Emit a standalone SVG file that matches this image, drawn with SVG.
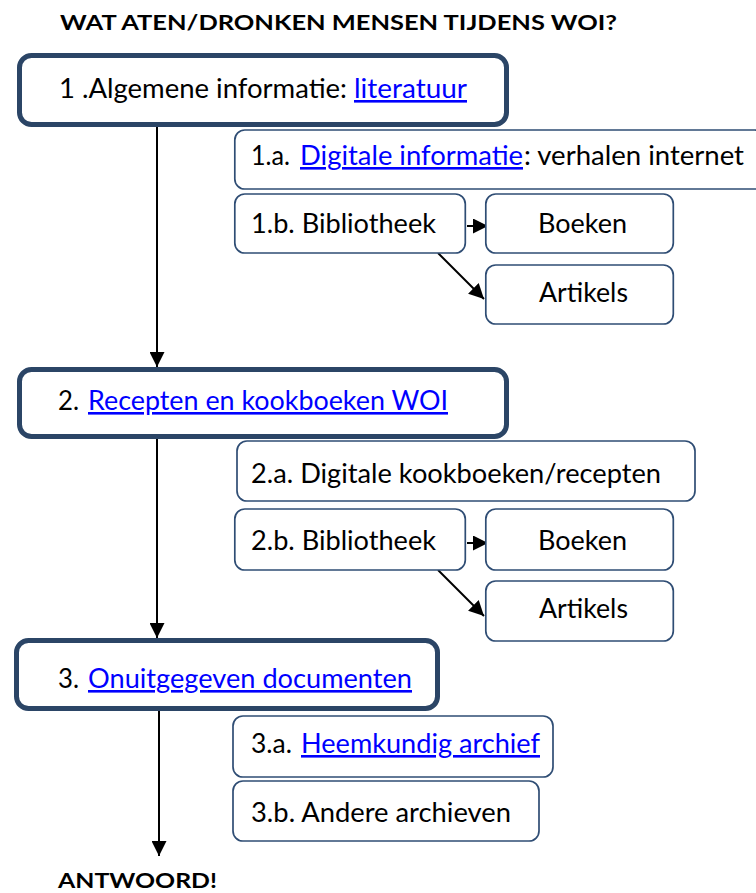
<svg xmlns="http://www.w3.org/2000/svg" width="756" height="893" viewBox="0 0 756 893">
<defs>
<marker id="ah" markerUnits="userSpaceOnUse" markerWidth="16" markerHeight="15" refX="15" refY="7.5" orient="auto">
<path d="M0,0 L15,7.5 L0,15 Z" fill="#000"/>
</marker>
<style>
.main{fill:#fff;stroke:#2b4566;stroke-width:5}
.sub{fill:#fff;stroke:#2f4d74;stroke-width:1.7}
text{font-family:Lato,"Liberation Sans",sans-serif;font-size:26px;fill:#000}
.b{font-weight:bold;font-size:21px}
.lk{fill:#0000ff;text-decoration:underline}
.cn{stroke:#000;stroke-width:2;fill:none}
</style>
</defs>
<rect width="756" height="893" fill="#fff"/>
<text id="title" class="b" x="60" y="30" textLength="557" lengthAdjust="spacingAndGlyphs">WAT ATEN/DRONKEN MENSEN TIJDENS WOI?</text>

<g id="connectors">
<line class="cn" x1="157" y1="127" x2="157" y2="367" marker-end="url(#ah)"/>
<line class="cn" x1="157" y1="439" x2="157" y2="638" marker-end="url(#ah)"/>
<line class="cn" x1="159" y1="711" x2="159" y2="856" marker-end="url(#ah)"/>
<line class="cn" x1="467" y1="226" x2="488" y2="226" marker-end="url(#ah)"/>
<line class="cn" x1="438" y1="253" x2="484" y2="299" marker-end="url(#ah)"/>
<line class="cn" x1="467" y1="543" x2="488" y2="543" marker-end="url(#ah)"/>
<line class="cn" x1="438" y1="570" x2="484" y2="616" marker-end="url(#ah)"/>
</g>

<g id="n1">
<rect class="main" x="19.5" y="55.5" width="487" height="69" rx="12"/>
<text x="59" y="98" textLength="288" lengthAdjust="spacingAndGlyphs">1 .Algemene informatie:</text>
<text class="lk" x="354" y="98" textLength="113" lengthAdjust="spacingAndGlyphs">literatuur</text>
</g>
<g id="n1a">
<rect class="sub" x="234.8" y="130" width="530" height="59" rx="10"/>
<text x="251" y="165" textLength="39" lengthAdjust="spacingAndGlyphs">1.a.</text>
<text class="lk" x="300" y="165" textLength="223" lengthAdjust="spacingAndGlyphs">Digitale informatie</text>
<text x="524" y="165" textLength="220" lengthAdjust="spacingAndGlyphs">: verhalen internet</text>
</g>
<g id="n1b">
<rect class="sub" x="234.8" y="194" width="230.5" height="59" rx="10"/>
<text x="251" y="233" textLength="185" lengthAdjust="spacingAndGlyphs">1.b. Bibliotheek</text>
</g>
<g id="n1b1">
<rect class="sub" x="485.8" y="194" width="187.5" height="59" rx="10"/>
<text x="538" y="233" textLength="89" lengthAdjust="spacingAndGlyphs">Boeken</text>
</g>
<g id="n1b2">
<rect class="sub" x="485.8" y="265" width="187.5" height="59" rx="10"/>
<text x="539" y="302" textLength="89" lengthAdjust="spacingAndGlyphs">Artikels</text>
</g>

<g id="n2">
<rect class="main" x="19.5" y="369.5" width="487" height="67" rx="12"/>
<text x="58" y="410" textLength="21" lengthAdjust="spacingAndGlyphs">2.</text>
<text class="lk" x="88" y="410" textLength="360" lengthAdjust="spacingAndGlyphs">Recepten en kookboeken WOI</text>
</g>
<g id="n2a">
<rect class="sub" x="237" y="441" width="458" height="60" rx="10"/>
<text x="251" y="483" textLength="410" lengthAdjust="spacingAndGlyphs">2.a. Digitale kookboeken/recepten</text>
</g>
<g id="n2b">
<rect class="sub" x="234.8" y="509" width="230.5" height="61" rx="10"/>
<text x="251" y="550" textLength="185" lengthAdjust="spacingAndGlyphs">2.b. Bibliotheek</text>
</g>
<g id="n2b1">
<rect class="sub" x="485.8" y="509" width="187.5" height="61" rx="10"/>
<text x="538" y="550" textLength="89" lengthAdjust="spacingAndGlyphs">Boeken</text>
</g>
<g id="n2b2">
<rect class="sub" x="485.8" y="581" width="187.5" height="60" rx="10"/>
<text x="539" y="618" textLength="89" lengthAdjust="spacingAndGlyphs">Artikels</text>
</g>

<g id="n3">
<rect class="main" x="16.5" y="640.5" width="421" height="68" rx="12"/>
<text x="58" y="688" textLength="21" lengthAdjust="spacingAndGlyphs">3.</text>
<text class="lk" x="88" y="688" textLength="324" lengthAdjust="spacingAndGlyphs">Onuitgegeven documenten</text>
</g>
<g id="n3a">
<rect class="sub" x="233" y="716" width="320" height="61" rx="10"/>
<text x="251" y="753" textLength="41" lengthAdjust="spacingAndGlyphs">3.a.</text>
<text class="lk" x="301" y="753" textLength="239" lengthAdjust="spacingAndGlyphs">Heemkundig archief</text>
</g>
<g id="n3b">
<rect class="sub" x="233" y="781" width="306" height="60" rx="10"/>
<text x="251" y="822" textLength="260" lengthAdjust="spacingAndGlyphs">3.b. Andere archieven</text>
</g>

<text id="answer" class="b" x="58" y="888" textLength="159" lengthAdjust="spacingAndGlyphs">ANTWOORD!</text>
</svg>
